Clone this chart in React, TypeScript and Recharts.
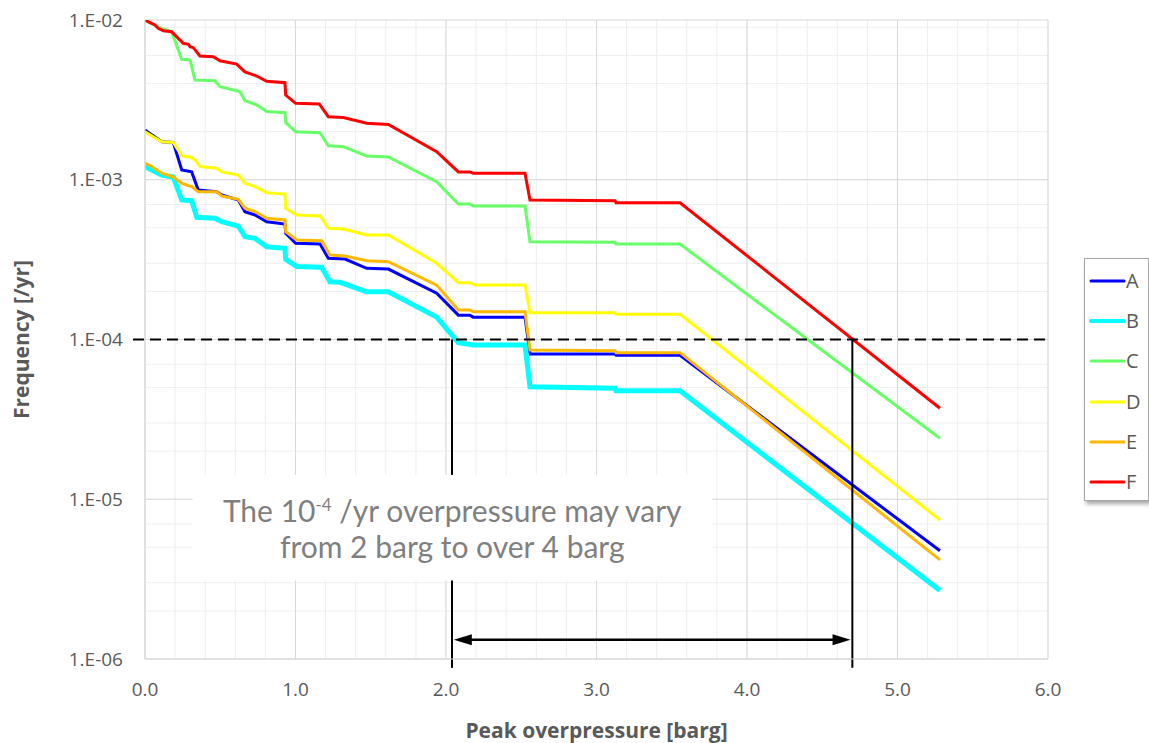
import React from 'react';
import {
  LineChart,
  Line,
  XAxis,
  YAxis,
  CartesianGrid,
  ReferenceLine,
  ReferenceArea,
  Legend,
} from 'recharts';

// ---------------- data ----------------
const pressureA = [0, 0.045, 0.111, 0.188, 0.244, 0.31, 0.354, 0.476, 0.51, 0.62, 0.664, 0.731, 0.809, 0.93, 0.935, 1.001, 1.163, 1.218, 1.329, 1.473, 1.617, 1.938, 2.082, 2.159, 2.181, 2.525, 2.558, 3.123, 3.13, 3.555, 5.282];
const frequencyA = [2.05e-3, 1.91e-3, 1.73e-3, 1.71e-3, 1.15e-3, 1.12e-3, 8.63e-4, 8.42e-4, 8.03e-4, 7.47e-4, 6.31e-4, 6.02e-4, 5.46e-4, 5.28e-4, 4.62e-4, 4.0e-4, 3.96e-4, 3.22e-4, 3.19e-4, 2.79e-4, 2.76e-4, 1.95e-4, 1.42e-4, 1.42e-4, 1.38e-4, 1.38e-4, 8.11e-5, 8.11e-5, 7.96e-5, 7.96e-5, 4.76e-6];

const pressureB = [0, 0.045, 0.111, 0.188, 0.244, 0.31, 0.344, 0.465, 0.51, 0.62, 0.664, 0.731, 0.809, 0.93, 0.935, 1.008, 1.174, 1.229, 1.296, 1.473, 1.617, 1.938, 2.082, 2.181, 2.525, 2.558, 3.123, 3.13, 3.555, 5.282];
const frequencyB = [1.21e-3, 1.15e-3, 1.07e-3, 1.04e-3, 7.47e-4, 7.39e-4, 5.82e-4, 5.74e-4, 5.46e-4, 5.13e-4, 4.4e-4, 4.3e-4, 3.81e-4, 3.72e-4, 3.18e-4, 2.86e-4, 2.83e-4, 2.3e-4, 2.28e-4, 1.99e-4, 1.99e-4, 1.38e-4, 9.55e-5, 9.24e-5, 9.24e-5, 5.06e-5, 4.95e-5, 4.78e-5, 4.78e-5, 2.68e-6];

const pressureC = [0, 0.111, 0.177, 0.244, 0.299, 0.332, 0.465, 0.498, 0.631, 0.664, 0.742, 0.809, 0.93, 0.935, 1.001, 1.163, 1.218, 1.318, 1.473, 1.617, 1.938, 2.082, 2.159, 2.181, 2.525, 2.558, 3.123, 3.13, 3.555, 5.282];
const frequencyC = [9.9e-3, 8.87e-3, 8.45e-3, 5.68e-3, 5.62e-3, 4.21e-3, 4.17e-3, 3.82e-3, 3.56e-3, 3.13e-3, 2.94e-3, 2.67e-3, 2.63e-3, 2.28e-3, 2.0e-3, 1.97e-3, 1.63e-3, 1.61e-3, 1.41e-3, 1.39e-3, 9.72e-4, 7.05e-4, 7.05e-4, 6.85e-4, 6.85e-4, 4.09e-4, 4.06e-4, 3.96e-4, 3.96e-4, 2.41e-5];

const pressureD = [0, 0.033, 0.111, 0.188, 0.244, 0.299, 0.332, 0.365, 0.476, 0.51, 0.62, 0.664, 0.731, 0.809, 0.93, 0.935, 1.008, 1.163, 1.218, 1.318, 1.473, 1.617, 1.938, 2.082, 2.159, 2.193, 2.525, 2.558, 3.123, 3.13, 3.555, 5.282];
const frequencyD = [2.0e-3, 1.91e-3, 1.73e-3, 1.71e-3, 1.41e-3, 1.39e-3, 1.33e-3, 1.21e-3, 1.18e-3, 1.12e-3, 1.07e-3, 9.5e-4, 9.05e-4, 8.3e-4, 8.14e-4, 6.63e-4, 6.02e-4, 5.93e-4, 4.97e-4, 4.92e-4, 4.51e-4, 4.51e-4, 3.0e-4, 2.27e-4, 2.27e-4, 2.19e-4, 2.19e-4, 1.47e-4, 1.47e-4, 1.44e-4, 1.44e-4, 7.41e-6];

const pressureE = [0, 0.045, 0.111, 0.188, 0.244, 0.31, 0.354, 0.476, 0.51, 0.62, 0.664, 0.731, 0.809, 0.93, 0.935, 1.008, 1.174, 1.229, 1.329, 1.473, 1.617, 1.938, 2.082, 2.159, 2.181, 2.525, 2.558, 3.123, 3.13, 3.555, 5.282];
const frequencyE = [1.27e-3, 1.21e-3, 1.1e-3, 1.04e-3, 9.5e-4, 9.05e-4, 8.42e-4, 8.42e-4, 7.91e-4, 7.54e-4, 6.63e-4, 6.31e-4, 5.74e-4, 5.6e-4, 4.73e-4, 4.2e-4, 4.15e-4, 3.38e-4, 3.33e-4, 3.11e-4, 3.07e-4, 2.19e-4, 1.53e-4, 1.53e-4, 1.49e-4, 1.49e-4, 8.6e-5, 8.51e-5, 8.27e-5, 8.27e-5, 4.17e-6];

const pressureF = [0, 0.066, 0.088, 0.122, 0.177, 0.254, 0.288, 0.299, 0.321, 0.365, 0.454, 0.498, 0.609, 0.664, 0.742, 0.809, 0.93, 0.935, 1.001, 1.158, 1.218, 1.318, 1.473, 1.617, 1.938, 2.082, 2.159, 2.181, 2.525, 2.558, 3.123, 3.13, 3.555, 5.282];
const frequencyF = [1.0e-2, 9.3e-3, 8.87e-3, 8.57e-3, 8.45e-3, 7.15e-3, 7.05e-3, 6.81e-3, 6.71e-3, 5.95e-3, 5.89e-3, 5.56e-3, 5.3e-3, 4.73e-3, 4.46e-3, 4.13e-3, 4.05e-3, 3.39e-3, 3.01e-3, 2.98e-3, 2.48e-3, 2.45e-3, 2.26e-3, 2.22e-3, 1.5e-3, 1.12e-3, 1.12e-3, 1.1e-3, 1.1e-3, 7.47e-4, 7.39e-4, 7.18e-4, 7.18e-4, 3.71e-5];

const xTicks = [0, 1, 2, 3, 4, 5, 6];
const yTicks = [1e-6, 1e-5, 1e-4, 1e-3, 1e-2];

// annotation values
const thresholdFrequency = 1e-4;
const lowPressure = 2.04;
const highPressure = 4.7;
const boxTop = 1.42e-5;
const boxBottom = 3.1e-6;
const annotationLine1a = 'The 10';
const annotationSup = '-4';
const annotationLine1b = ' /yr overpressure may vary';
const annotationLine2 = 'from 2 barg to over 4 barg';

// ---------------- helpers ----------------
const zip = (xs: number[], ys: number[]) => xs.map((x, i) => ({ x, y: ys[i] }));

const series = [
  { name: 'A', color: '#0000ff', width: 3, data: zip(pressureA, frequencyA) },
  { name: 'B', color: '#00ffff', width: 5, data: zip(pressureB, frequencyB) },
  { name: 'C', color: '#66ff66', width: 3, data: zip(pressureC, frequencyC) },
  { name: 'D', color: '#ffff00', width: 3, data: zip(pressureD, frequencyD) },
  { name: 'E', color: '#ffb800', width: 3, data: zip(pressureE, frequencyE) },
  { name: 'F', color: '#ff0000', width: 3, data: zip(pressureF, frequencyF) },
];

const minorX: number[] = [];
for (let i = 0; i <= 30; i++) minorX.push(Math.round(i * 2) / 10);
const minorY: number[] = [];
for (let e = -6; e <= -3; e++) for (let m = 1; m <= 9; m++) minorY.push(m * Math.pow(10, e));

const fmtY = (v: number) => {
  const e = Math.round(Math.log10(v));
  const s = Math.abs(e).toString().padStart(2, '0');
  return `1.E${e < 0 ? '-' : '+'}${s}`;
};

const FONT = '"Open Sans", sans-serif';
const GRAY = '#595959';

const renderLegend = (props: any) => {
  const payload = props.payload || [];
  return (
    <div
      style={{
        width: 65,
        height: 243,
        boxSizing: 'border-box',
        border: '1px solid #a6a6a6',
        boxShadow: '2px 3px 4px rgba(0,0,0,0.35)',
        background: '#ffffff',
        paddingTop: 2,
        fontFamily: FONT,
      }}
    >
      {payload.map((p: any) => {
        const s = series.find((q) => q.name === p.value);
        return (
          <div key={p.value} style={{ display: 'flex', alignItems: 'center', height: 40.2 }}>
            <svg width={41} height={10} style={{ display: 'block' }}>
              <line x1={6} y1={5} x2={39} y2={5} stroke={p.color} strokeWidth={s ? Math.min(s.width, 4) : 3} strokeLinecap="round" />
            </svg>
            <span style={{ fontSize: 20, color: GRAY, lineHeight: '20px' }}>{p.value}</span>
          </div>
        );
      })}
    </div>
  );
};

const ArrowShape = (p: any) => {
  const { x1, y1, x2, y2 } = p;
  const len = 18;
  const half = 5.5;
  return (
    <g>
      <line x1={x1 + 6} y1={y1} x2={x2 - 6} y2={y2} stroke="#000" strokeWidth={2.5} />
      <polygon points={`${x1},${y1} ${x1 + len},${y1 - half} ${x1 + len},${y1 + half}`} fill="#000" />
      <polygon points={`${x2},${y2} ${x2 - len},${y2 - half} ${x2 - len},${y2 + half}`} fill="#000" />
    </g>
  );
};

const AnnotationText = (props: any) => {
  const vb = props.viewBox || {};
  const cx = vb.x + vb.width / 2;
  const cy = vb.y + vb.height / 2;
  const style = { fontFamily: 'Lato, "Open Sans", sans-serif', fontSize: 30, fill: '#7f7f7f' };
  return (
    <g>
      <text x={cx} y={cy - 6} textAnchor="middle" style={style}>
        {annotationLine1a}
        <tspan dy={-11} fontSize={17}>{annotationSup}</tspan>
        <tspan dy={11}>{annotationLine1b}</tspan>
      </text>
      <text x={cx} y={cy + 30} textAnchor="middle" style={style}>
        {annotationLine2}
      </text>
    </g>
  );
};

export default function App() {
  return (
    <div style={{ position: 'absolute', left: 0, top: 0, width: 1149, height: 743, background: '#ffffff' }}>
      <LineChart width={1149} height={743} margin={{ top: 20, right: 36, bottom: 0, left: 0 }}>
        <CartesianGrid
          stroke="#eeeeee"
          strokeWidth={1}
          verticalValues={minorX}
          horizontalValues={minorY}
        />
        <CartesianGrid
          stroke="#d9d9d9"
          strokeWidth={1}
          verticalValues={xTicks}
          horizontalValues={yTicks}
        />
        <XAxis
          type="number"
          dataKey="x"
          domain={[0, 6]}
          ticks={xTicks}
          allowDataOverflow
          tickFormatter={(v: number) => v.toFixed(1)}
          tickLine={false}
          tickSize={0}
          tickMargin={24}
          axisLine={{ stroke: '#d9d9d9' }}
          height={84}
          tick={{ fill: GRAY, fontSize: 19, fontFamily: FONT }}
          label={{
            value: 'Peak overpressure [barg]',
            position: 'insideBottom',
            offset: 5,
            style: { fill: GRAY, fontSize: 21, fontWeight: 'bold', fontFamily: FONT },
          }}
        />
        <YAxis
          type="number"
          scale="log"
          domain={[1e-6, 1e-2]}
          ticks={yTicks}
          allowDataOverflow
          tickFormatter={fmtY}
          tickLine={false}
          tickSize={0}
          tickMargin={22}
          axisLine={{ stroke: '#d9d9d9' }}
          width={145}
          tick={{ fill: GRAY, fontSize: 19, fontFamily: FONT }}
          label={{
            value: 'Frequency [/yr]',
            angle: -90,
            position: 'insideLeft',
            offset: 22,
            style: { fill: GRAY, fontSize: 21, fontWeight: 'bold', fontFamily: FONT, textAnchor: 'middle' },
          }}
        />
        <ReferenceArea
          x1={0.316}
          x2={3.767}
          y1={boxBottom}
          y2={boxTop}
          fill="#ffffff"
          fillOpacity={1}
          stroke="none"
          ifOverflow="visible"
          label={<AnnotationText />}
        />
        {series.map((s) => (
          <Line
            key={s.name}
            name={s.name}
            data={s.data}
            dataKey="y"
            type="linear"
            stroke={s.color}
            strokeWidth={s.width}
            dot={false}
            activeDot={false}
            isAnimationActive={false}
            legendType="line"
          />
        ))}
        <ReferenceLine
          ifOverflow="visible"
          segment={[
            { x: -0.08, y: thresholdFrequency },
            { x: 6, y: thresholdFrequency },
          ]}
          stroke="#000"
          strokeWidth={2}
          strokeDasharray="11 6"
        />
        <ReferenceLine
          ifOverflow="visible"
          segment={[
            { x: lowPressure, y: thresholdFrequency },
            { x: lowPressure, y: boxTop },
          ]}
          stroke="#000"
          strokeWidth={2}
        />
        <ReferenceLine
          ifOverflow="visible"
          segment={[
            { x: lowPressure, y: boxBottom },
            { x: lowPressure, y: 8.8e-7 },
          ]}
          stroke="#000"
          strokeWidth={2}
        />
        <ReferenceLine
          ifOverflow="visible"
          segment={[
            { x: highPressure, y: thresholdFrequency },
            { x: highPressure, y: 8.8e-7 },
          ]}
          stroke="#000"
          strokeWidth={2}
        />
        <ReferenceLine
          ifOverflow="visible"
          segment={[
            { x: lowPressure + 0.012, y: 1.32e-6 },
            { x: highPressure - 0.012, y: 1.32e-6 },
          ]}
          shape={ArrowShape}
        />
        <Legend
          layout="horizontal"
          verticalAlign="middle"
          align="right"
          content={renderLegend}
          wrapperStyle={{ left: 1084, top: 258, width: 65, height: 243 }}
        />
      </LineChart>
    </div>
  );
}
